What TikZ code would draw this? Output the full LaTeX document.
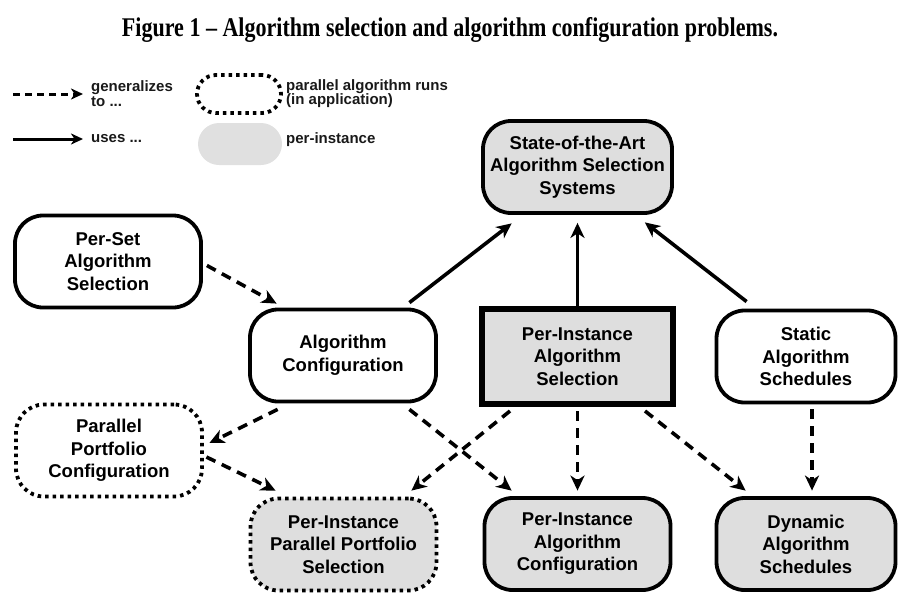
\documentclass[tikz,border=0pt]{standalone}
\usepackage{graphicx}
\usepackage{fontspec}
\setmainfont{Liberation Sans}
\newfontfamily\titlefont{Liberation Serif}
\usetikzlibrary{arrows.meta}
\definecolor{boxgray}{HTML}{DEDEDE}
\definecolor{leggray}{HTML}{E0E0E0}
\tikzset{
  prob/.style={draw, line width=3.8pt, rounded corners=28pt, minimum width=186pt, minimum height=92pt,
    align=center, inner sep=0pt, font=\bfseries\fontsize{18.5}{22.5}\selectfont},
  inst/.style={fill=boxgray},
  para/.style={dash pattern=on 3.5pt off 4pt},
  gen/.style={line width=3.6pt, dash pattern=on 10pt off 7pt, -{Stealth[length=15pt,width=14pt,inset=4.5pt]}},
  use/.style={line width=3.6pt, -{Stealth[length=15pt,width=14pt,inset=4.5pt]}},
  legtext/.style={anchor=west, align=left, inner sep=0pt, font=\bfseries\fontsize{15}{14.5}\selectfont, text=black!90}
}
\begin{document}
\begin{tikzpicture}[x=1pt,y=-1pt]
    \useasboundingbox (0,0) rectangle (899,592);
    \node[font=\titlefont\bfseries\fontsize{27}{30}\selectfont] (title) at (450,30)
        {\resizebox{656pt}{\height}{Figure 1 – Algorithm selection and algorithm configuration problems.}};
    % legend
    \coordinate (ga) at (13,94); \coordinate (gb) at (83,94);
    \coordinate (ua) at (13,139); \coordinate (ub) at (83,139);
    \draw[gen, line width=3pt, dash pattern=on 7pt off 5pt, -{Stealth[length=12pt,width=11pt,inset=3.5pt]}] (ga) -- (gb);
    \draw[use, line width=3pt, -{Stealth[length=12pt,width=11pt,inset=3.5pt]}] (ua) -- (ub);
    \node[draw, para, line width=3.8pt, rounded corners=19pt, minimum width=84pt, minimum height=38pt] (lpara) at (239,94) {};
    \node[fill=leggray, rounded corners=21pt, minimum width=84pt, minimum height=42pt, inner sep=0pt] (linst) at (240,144) {};
    \node[legtext] (lgen) at (91,93.5) {generalizes\\to ...};
    \node[legtext] (lpar) at (286,93.5) {parallel algorithm runs\\(in application)};
    \node[legtext] (luse) at (91,139) {uses ...};
    \node[legtext] (lpi) at (286,140) {per-instance};
    % problems
    \node[prob,inst,minimum width=189pt] (sota) at (577.5,167) {State-of-the-Art\\Algorithm Selection\\Systems};
    \node[prob] (perset) at (108,261.5) {Per-Set\\Algorithm\\Selection};
    \node[prob] (algconf) at (343,355.5) {Algorithm\\Configuration};
    \node[prob,inst,sharp corners,line width=6pt,minimum width=191pt,minimum height=95pt] (pias) at (577.5,356.5) {Per-Instance\\Algorithm\\Selection};
    \node[prob,minimum width=179pt] (static) at (806,356.5) {Static\\Algorithm\\Schedules};
    \node[prob,para] (ppconf) at (109,450.5) {Parallel\\Portfolio\\Configuration};
    \node[prob,inst,para] (pipps) at (343.5,544.5) {Per-Instance\\Parallel Portfolio\\Selection};
    \node[prob,inst] (piac) at (577.5,544) {Per-Instance\\Algorithm\\Configuration};
    \node[prob,inst,minimum width=179pt] (dyn) at (806,544) {Dynamic\\Algorithm\\Schedules};
    % uses
    \draw[use] ([xshift=-28.5pt,yshift=5pt]algconf.north east) -- ([xshift=30.5pt,yshift=-8.5pt]sota.south west);
    \draw[use] (pias.north) -- ([yshift=-8pt]sota.south);
    \draw[use] ([xshift=32pt,yshift=7pt]static.north west) -- ([xshift=-29pt,yshift=-7.5pt]sota.south east);
    % generalizes to
    \draw[gen] ([xshift=4pt,yshift=-4pt]perset.east) -- ([xshift=28.5pt,yshift=4pt]algconf.north west);
    \draw[gen] ([xshift=29.5pt,yshift=-6pt]algconf.south west) -- ([xshift=5.5pt,yshift=7.5pt]ppconf.east);
    \draw[gen] ([xshift=-28.5pt,yshift=-6pt]algconf.south east) -- ([xshift=29pt,yshift=5.5pt]piac.north west);
    \draw[gen] ([xshift=2.5pt,yshift=-6.5pt]ppconf.east) -- ([xshift=27pt,yshift=6pt]pipps.north west);
    \draw[gen] ([xshift=31pt,yshift=-4pt]pias.south west) -- ([xshift=-27pt,yshift=6pt]pipps.north east);
    \draw[gen] ([yshift=-4pt]pias.south) -- ([yshift=5.5pt]piac.north);
    \draw[gen] ([xshift=-31pt,yshift=-4pt]pias.south east) -- ([xshift=31pt,yshift=5.5pt]dyn.north west);
    \draw[gen] ([xshift=6pt,yshift=-5pt]static.south) -- ([xshift=6pt,yshift=5.5pt]dyn.north);
\end{tikzpicture}
\end{document}
